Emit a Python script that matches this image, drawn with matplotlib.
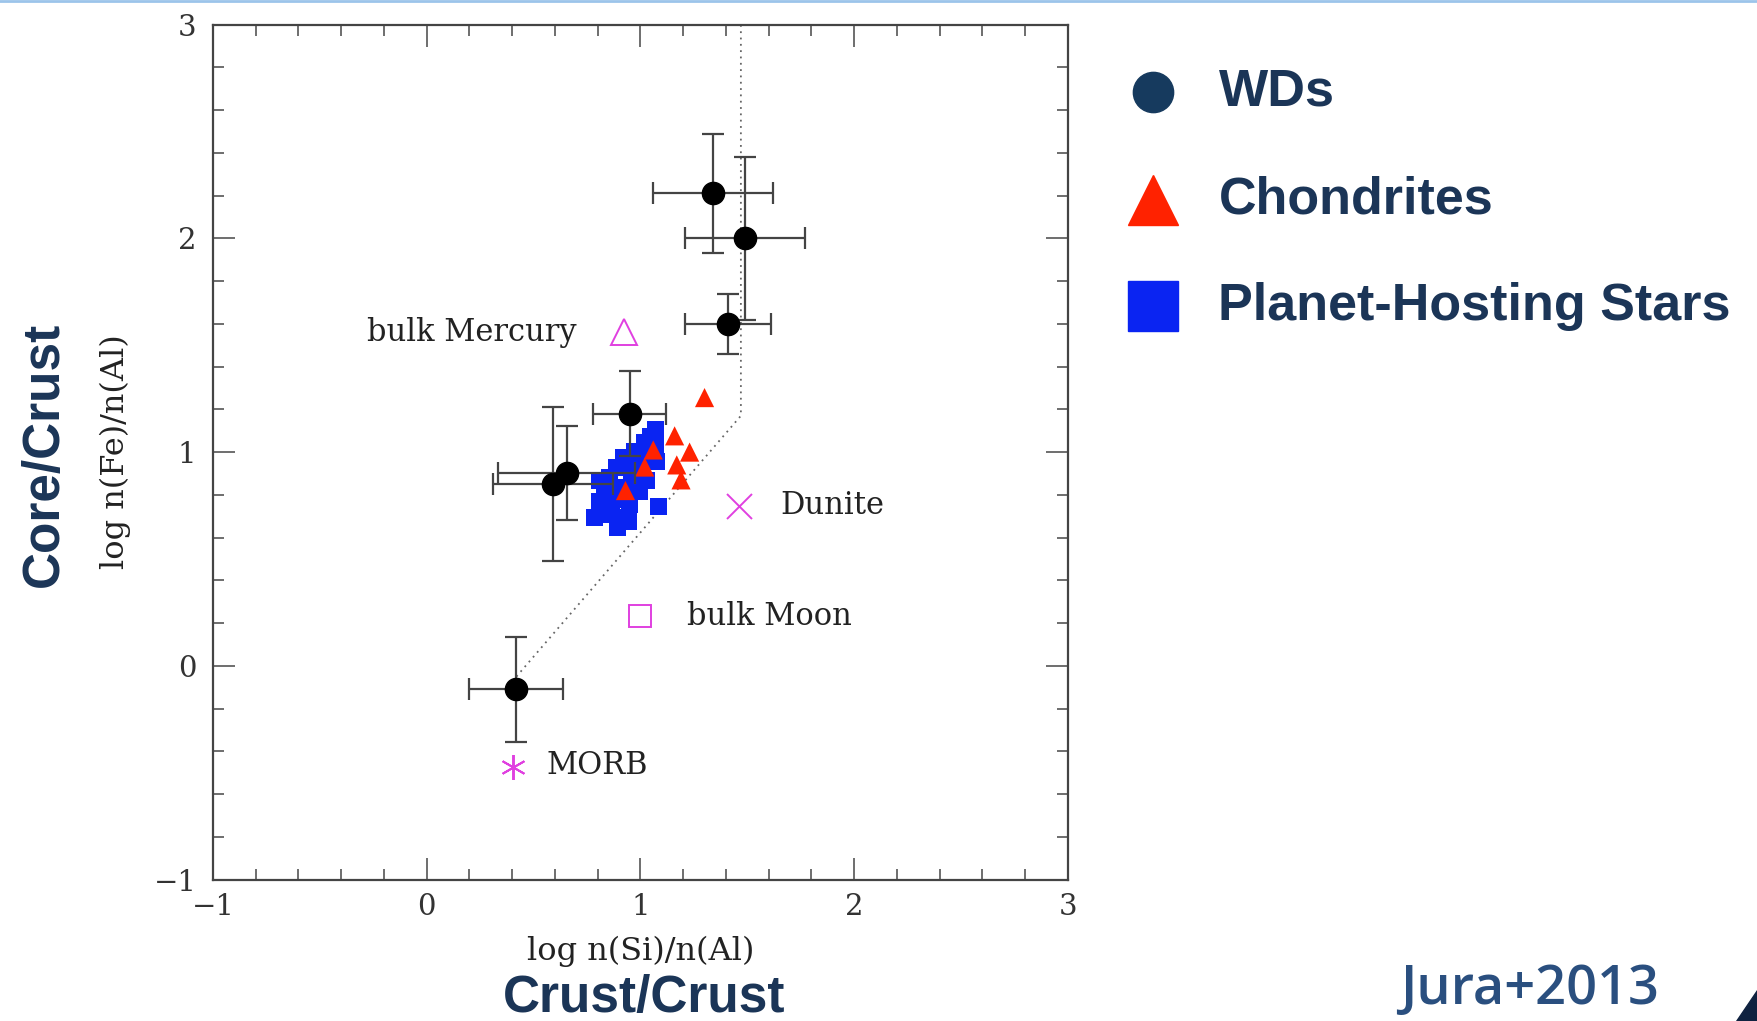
import matplotlib
matplotlib.use("Agg")
import matplotlib.pyplot as plt
from matplotlib.patches import Polygon
from matplotlib.lines import Line2D
from matplotlib.ticker import MultipleLocator

# White dwarf pollution: log n(Si)/n(Al) vs log n(Fe)/n(Al)
wd_x = [1.34, 1.49, 1.41, 0.95, 0.59, 0.655, 0.42]
wd_y = [2.21, 2.00, 1.60, 1.18, 0.85, 0.90, -0.11]
wd_xerr = [0.28, 0.28, 0.20, 0.17, 0.28, 0.32, 0.22]
wd_yerr = [0.28, 0.38, 0.14, 0.20, 0.36, 0.22, 0.245]

# Chondritic meteorites
chon_x = [1.30, 1.16, 1.23, 1.06, 1.02, 1.17, 1.19, 0.93]
chon_y = [1.255, 1.076, 1.00, 1.01, 0.93, 0.94, 0.87, 0.82]

# Planet-hosting stars
star_x = [1.072, 1.072, 1.020, 0.973, 0.919, 1.075, 0.888, 1.012, 0.958, 0.856,
          1.028, 0.833, 0.919, 0.997, 0.872, 0.950, 1.083, 0.786, 0.911, 0.895,
          0.841, 1.028, 0.942, 0.810, 0.810, 0.981, 0.864, 0.942, 1.045]
star_y = [1.107, 1.036, 1.044, 1.005, 0.974, 0.958, 0.927, 0.935, 0.904, 0.880,
          0.865, 0.818, 0.833, 0.818, 0.779, 0.755, 0.747, 0.693, 0.693, 0.646,
          0.849, 0.982, 0.958, 0.865, 0.771, 0.880, 0.708, 0.677, 1.075]

# Solar-system reference compositions
ref_names = ["bulk Mercury", "Dunite", "bulk Moon", "MORB"]
ref_x = [0.923, 1.463, 0.996, 0.404]
ref_y = [1.56, 0.75, 0.231, -0.472]
ref_markers = ["^", "x", "s", "*"]

# Mixing track (dotted)
track_x = [0.42, 1.47, 1.47]
track_y = [-0.05, 1.17, 3.0]

legend_labels = ["WDs", "Chondrites", "Planet-Hosting Stars"]

NAVY = "#1b3557"
MAG = "#e040e0"
RED = "#ff2200"
BLUE = "#0a24f2"
SERIF = ["DejaVu Serif"]
TXT = "#222222"

fig = plt.figure(figsize=(17.57, 10.21), dpi=100)
ax = fig.add_axes([0.1212, 0.1385, 0.4866, 0.8374])

ax.plot(track_x, track_y, ls=(0, (1, 2.5)), color="#666666", lw=1.3, zorder=1)

ax.scatter(star_x, star_y, marker="s", s=150, color=BLUE, edgecolor="none", zorder=2)
ax.scatter(chon_x, chon_y, marker="^", s=190, color=RED, edgecolor="none", zorder=3)

ax.errorbar(wd_x, wd_y, xerr=wd_xerr, yerr=wd_yerr, fmt="o", ms=16, color="black",
            ecolor="#444444", elinewidth=1.6, capsize=8, capthick=1.6, zorder=4)

for x, y, m in zip(ref_x, ref_y, ref_markers):
    if m == "x":
        ax.plot(x, y, marker="x", ms=18, mew=1.4, color=MAG, zorder=5)
    elif m == "*":
        ax.plot(x, y, marker=(6, 2, 0), ms=18, mew=1.4, color=MAG, zorder=5)
    elif m == "s":
        ax.plot(x, y, marker=m, ms=16, mfc="none", mec=MAG, mew=1.4, zorder=5)
    else:
        ax.plot(x, y, marker=m, ms=19, mfc="none", mec=MAG, mew=1.4, zorder=5)

label_kw = dict(va="center", family=SERIF, fontsize=22, color=TXT)
ax.text(ref_x[0] - 0.22, ref_y[0], ref_names[0], ha="right", **label_kw)
ax.text(ref_x[1] + 0.19, ref_y[1], ref_names[1], ha="left", **label_kw)
ax.text(ref_x[2] + 0.22, ref_y[2], ref_names[2], ha="left", **label_kw)
ax.text(ref_x[3] + 0.155, ref_y[3] + 0.007, ref_names[3], ha="left", **label_kw)

ax.set_xlim(-1, 3)
ax.set_ylim(-1, 3)
ax.xaxis.set_major_locator(MultipleLocator(1))
ax.yaxis.set_major_locator(MultipleLocator(1))
ax.xaxis.set_minor_locator(MultipleLocator(0.2))
ax.yaxis.set_minor_locator(MultipleLocator(0.2))
ax.tick_params(which="both", direction="in", top=True, right=True, color="#555555",
               width=1.2, labelsize=21, labelcolor="#333333")
ax.tick_params(axis="x", pad=10)
ax.tick_params(axis="y", pad=12)
ax.tick_params(which="major", length=16)
ax.tick_params(which="minor", length=8)
for lab in ax.get_xticklabels() + ax.get_yticklabels():
    lab.set_family(SERIF)
for s in ax.spines.values():
    s.set_color("#444444")
    s.set_linewidth(1.6)

ax.set_xlabel("log n(Si)/n(Al)", family=SERIF, fontsize=23, color=TXT, labelpad=10)
ax.set_ylabel("log n(Fe)/n(Al)", family=SERIF, fontsize=23, color=TXT, labelpad=16)

# Headline axis meanings
HEAD = ["Liberation Sans Narrow", "Liberation Sans"]
fig.text(0.3665, 0.022, "Crust/Crust", ha="center", va="center", fontsize=37,
         fontweight="bold", color=NAVY, family=HEAD)
fig.text(0.025, 0.555, "Core/Crust", ha="center", va="center", rotation=90,
         fontsize=37, fontweight="bold", color=NAVY, family=HEAD)

# Legend, drawn entry by entry
leg_markers = [("o", 29, "#163a5e"), ("^", 36, RED), ("s", 36, BLUE)]
leg_rows = [0.910, 0.804, 0.700]
for (mk, ms, col), yy, lab in zip(leg_markers, leg_rows, legend_labels):
    fig.add_artist(Line2D([0.6565], [yy], ls="none", marker=mk, ms=ms, color=col,
                          transform=fig.transFigure))
    fig.text(0.6935, yy, lab, ha="left", va="center", fontsize=37.5,
             fontweight="bold", color=NAVY, family=["Liberation Sans"])

fig.text(0.8705, 0.030, "Jura+2013", ha="center", va="center", fontsize=39,
         color="#2a4f7f", family=["Open Sans"], fontweight="semibold")

# Slide decorations: top rule and corner wedge
fig.add_artist(Line2D([0, 1], [0.999, 0.999], color="#9cc4ea", lw=2,
                      transform=fig.transFigure))
fig.add_artist(Polygon([[0.988, 0.0], [1.0, 0.0], [1.0, 0.03]], closed=True,
                       color="#0f2240", transform=fig.transFigure))

fig.savefig("out.png", dpi=100)
